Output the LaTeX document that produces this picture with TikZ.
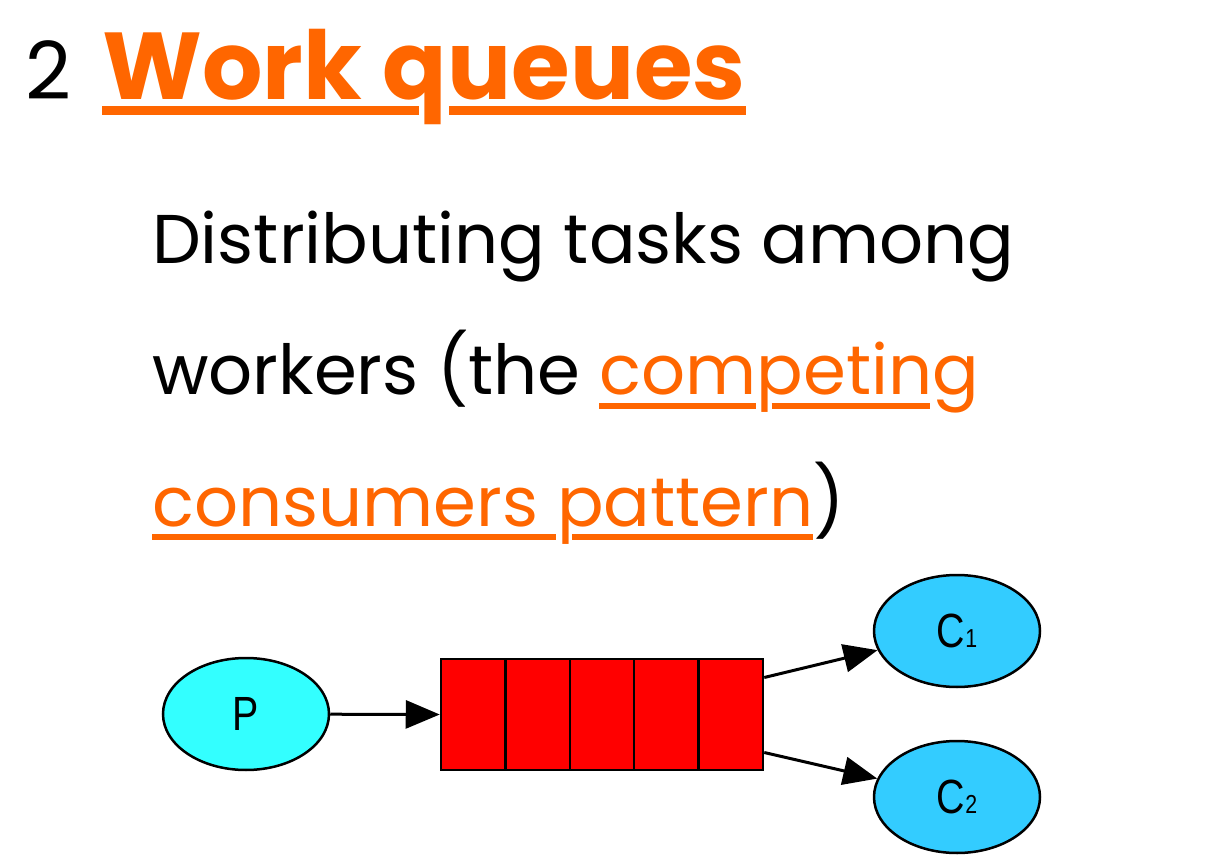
\documentclass[tikz,border=0pt]{standalone}
\usepackage{fontspec}
\setmainfont{Poppins}
\setsansfont{Liberation Sans}
\usetikzlibrary{arrows.meta,positioning,shapes.geometric}

\definecolor{linkorange}{HTML}{FF6600}
\definecolor{prodcyan}{HTML}{33FFFF}
\definecolor{conblue}{HTML}{33CCFF}
\definecolor{queuered}{HTML}{FF0000}

\newcommand{\cidx}[1]{\fontsize{26}{26}\selectfont #1}

\begin{document}
\begin{tikzpicture}[x=1pt, y=-1pt,
    txt/.style={anchor=base west, inner sep=0pt, font=\fontsize{69}{80}\selectfont},
    link/.style={txt, text=linkorange},
    uline/.style={draw=linkorange, line width=6pt},
    proc/.style={ellipse, draw, line width=2.5pt, minimum width=166pt, minimum height=112pt, inner sep=0pt,
        font=\sffamily\fontsize{48}{48}\selectfont},
    cell/.style={rectangle, draw, line width=2.5pt, fill=queuered, minimum width=64.4pt, minimum height=111pt, inner sep=0pt},
    flow/.style={-{Triangle[length=34pt, width=28pt]}, line width=3pt}]
    \useasboundingbox (0,0) rectangle (1232,866);

    % Heading
    \node[txt, font=\fontsize{80}{90}\selectfont] (num) at (25,100) {2};
    \tikzset{title/.style={link, font=\bfseries\fontsize{95}{105}\selectfont}}
    \node[title] (work) at (102,100) {Work\ \mbox{}};
    \node[title] (tq) at (work.base east) {q};
    \node[title] (tues) at (tq.base east) {ueues};
    \draw[uline, line width=9pt] ([yshift=-10.5pt]work.base west) -- ([xshift=-28pt, yshift=-10.5pt]tq.base east);
    \draw[uline, line width=9pt] ([xshift=2pt, yshift=-10.5pt]tq.base east) -- ([yshift=-10.5pt]tues.base east);

    % Text lines
    \node[txt] (line1) at (152,264) {Distributing tasks among};
    \node[txt] (line2) at (152,395) {workers (the\ \mbox{}};
    \node[link] (comA) at (line2.base east) {com};
    \node[link] (comB) at (comA.base east) {petin};
    \node[link] (comC) at (comB.base east) {g};
    \node[link] (cons) at (152,526) {consumers\ \mbox{}};
    \node[link] (pat) at (cons.base east) {pattern};
    \node[txt] (paren) at (pat.base east) {)};
    \draw[uline] ([yshift=-11pt]comA.base west) -- ([xshift=-1pt, yshift=-11pt]comB.base west);
    \draw[uline] ([xshift=15pt, yshift=-11pt]comB.base west) -- ([xshift=-3pt, yshift=-11pt]comC.base west);
    \draw[uline] ([yshift=-11pt]cons.base west) -- ([xshift=-1pt, yshift=-11pt]pat.base west);
    \draw[uline] ([xshift=15pt, yshift=-11pt]pat.base west) -- ([yshift=-11pt]pat.base east);

    % Draw nodes
    \node[proc, fill=prodcyan] (P) at (246,714) {\scalebox{0.82}[1]{P}};
    \foreach \i in {1,...,5}
        \node[cell] (q\i) at (441+64.4*\i-32.2,714.5) {};
    \node[proc, fill=conblue] (C1) at (957,631) {\scalebox{0.82}[1]{C\cidx{1}}};
    \node[proc, fill=conblue] (C2) at (957,797) {\scalebox{0.82}[1]{C\cidx{2}}};

    % Draw connections
    \draw[flow] (P) -- (q1.west);
    \draw[flow] ([yshift=37pt]q5.east) -- (C1);
    \draw[flow] ([yshift=-38pt]q5.east) -- (C2);
\end{tikzpicture}
\end{document}
